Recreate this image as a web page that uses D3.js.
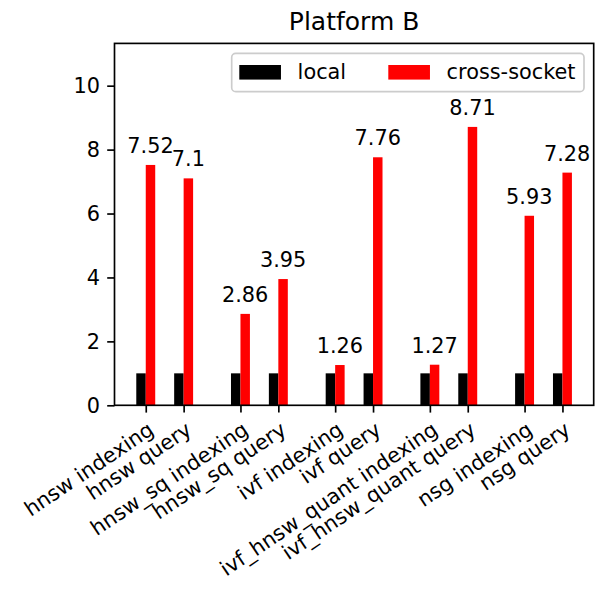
<!DOCTYPE html>
<html>
<head>
<meta charset="utf-8">
<script src="https://cdn.jsdelivr.net/npm/d3@7"></script>
<style>
  html, body { margin: 0; padding: 0; background: #fff; }
  svg { display: block; font-family: "DejaVu Sans", sans-serif; }
</style>
</head>
<body>
<svg id="chart" width="608" height="590"></svg>
<script>
// Workloads along the x axis, grouped in index/query pairs per algorithm
const categories = [
  "hnsw indexing", "hnsw query",
  "hnsw_sq indexing", "hnsw_sq query",
  "ivf indexing", "ivf query",
  "ivf_hnsw_quant indexing", "ivf_hnsw_quant query",
  "nsg indexing", "nsg query"
];
// Group slot of each category and its offset within the pair
const groupIndex = [0, 0, 1, 1, 2, 2, 3, 3, 4, 4];
const pairOffset = [0, 0.4, 0, 0.4, 0, 0.4, 0, 0.4, 0, 0.4];

// Normalised times
const localValues = [1, 1, 1, 1, 1, 1, 1, 1, 1, 1];
const crossSocketValues = [7.52, 7.1, 2.86, 3.95, 1.26, 7.76, 1.27, 8.71, 5.93, 7.28];

const seriesNames = ["local", "cross-socket"];
const seriesColors = ["#000000", "#ff0000"];
const yTicks = [0, 2, 4, 6, 8, 10];
const title = "Platform B";

const FS = 20.83;          // base font size
const TICK = 7.3;          // tick length
const PAD = 7.3;           // tick label padding
const LW = 1.67;           // spine / tick width
const BAR_W = 0.1;         // bar width in data units
const ROT = 34;            // x label rotation

const plot = { left: 114.5, right: 593.7, top: 43.4, bottom: 405.3 };

const svg = d3.select("#chart");

const positions = categories.map((c, i) => groupIndex[i] + pairOffset[i]);
const xMin = d3.min(positions) - BAR_W, xMax = d3.max(positions) + BAR_W;
const xMargin = (xMax - xMin) * 0.05;
const x = d3.scaleLinear()
  .domain([xMin - xMargin, xMax + xMargin])
  .range([plot.left, plot.right]);

const yMax = d3.max(crossSocketValues) * 1.3;
const y = d3.scaleLinear()
  .domain([0, yMax])
  .range([plot.bottom, plot.top]);

// Bars: local to the left of each tick, cross-socket to the right
const barData = [];
categories.forEach((c, i) => {
  barData.push({ x0: positions[i] - BAR_W, v: localValues[i], s: 0 });
  barData.push({ x0: positions[i], v: crossSocketValues[i], s: 1 });
});

svg.append("g").selectAll("rect")
  .data(barData)
  .join("rect")
  .attr("x", d => x(d.x0))
  .attr("width", d => x(d.x0 + BAR_W) - x(d.x0))
  .attr("y", d => y(d.v))
  .attr("height", d => y(0) - y(d.v))
  .attr("fill", d => seriesColors[d.s]);

// Value labels above cross-socket bars
svg.append("g").selectAll("text")
  .data(crossSocketValues)
  .join("text")
  .attr("x", (v, i) => x(positions[i] + BAR_W / 2))
  .attr("y", v => y(v) - 12)
  .attr("text-anchor", "middle")
  .attr("font-size", FS)
  .attr("fill", "#000")
  .text(v => String(v));

// Y axis
const yAxis = svg.append("g")
  .attr("transform", `translate(${plot.left},0)`)
  .call(d3.axisLeft(y).tickValues(yTicks).tickSize(TICK).tickPadding(PAD).tickFormat(d3.format("d")));
yAxis.select(".domain").remove();
yAxis.selectAll(".tick line").attr("stroke", "#000").attr("stroke-width", LW);
yAxis.selectAll(".tick text")
  .attr("font-size", FS).attr("font-family", "DejaVu Sans").attr("fill", "#000")
  .attr("dy", "0.35em");

// X axis
const xAxis = svg.append("g")
  .attr("transform", `translate(0,${plot.bottom})`)
  .call(d3.axisBottom(x).tickValues(positions).tickSize(TICK)
    .tickFormat((d, i) => categories[i]));
xAxis.select(".domain").remove();
xAxis.selectAll(".tick line").attr("stroke", "#000").attr("stroke-width", LW);
xAxis.selectAll(".tick text")
  .attr("font-size", FS).attr("font-family", "DejaVu Sans").attr("fill", "#000")
  .attr("text-anchor", "end")
  .attr("x", 0).attr("y", 0).attr("dy", "0.76em")
  .attr("transform", `translate(0,${TICK + PAD}) rotate(${-ROT})`);

// Frame
svg.append("rect")
  .attr("x", plot.left).attr("y", plot.top)
  .attr("width", plot.right - plot.left).attr("height", plot.bottom - plot.top)
  .attr("fill", "none").attr("stroke", "#000").attr("stroke-width", LW);

// Title
svg.append("text")
  .attr("x", (plot.left + plot.right) / 2).attr("y", 29.5)
  .attr("text-anchor", "middle").attr("font-size", 25).attr("fill", "#000")
  .text(title);

// Legend (two columns, upper right)
const legend = svg.append("g");
legend.append("rect")
  .attr("x", 231.7).attr("y", 53.3).attr("width", 352.3).attr("height", 38.4)
  .attr("rx", 4).attr("ry", 4)
  .attr("fill", "#fff").attr("fill-opacity", 0.8)
  .attr("stroke", "#cccccc").attr("stroke-width", LW);
const entryX = [239.3, 388.3];
seriesNames.forEach((name, i) => {
  legend.append("rect")
    .attr("x", entryX[i]).attr("y", 65)
    .attr("width", 2 * FS).attr("height", 0.7 * FS)
    .attr("fill", seriesColors[i]);
  legend.append("text")
    .attr("x", entryX[i] + 2 * FS + 0.8 * FS).attr("y", 79.4)
    .attr("font-size", FS).attr("fill", "#000")
    .text(name);
});
</script>
</body>
</html>
